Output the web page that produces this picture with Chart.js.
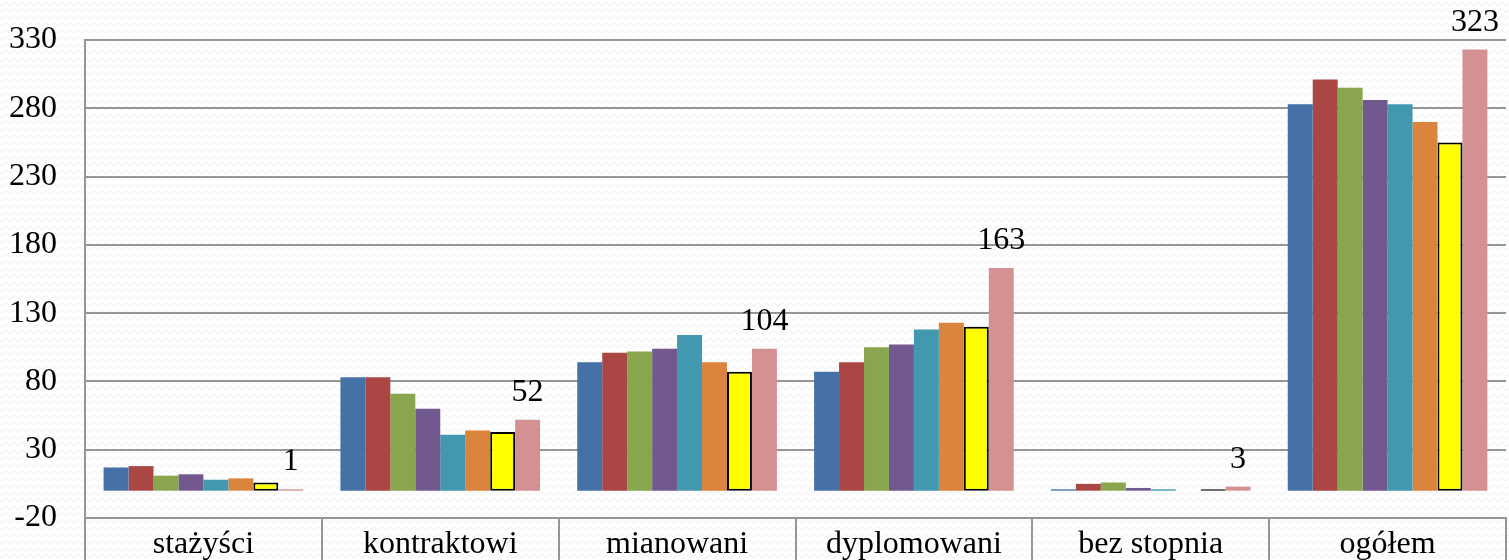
<!DOCTYPE html>
<html>
<head>
<meta charset="utf-8">
<script src="https://cdn.jsdelivr.net/npm/chart.js@4/dist/chart.umd.min.js"></script>
<style>
    html, body { margin: 0; padding: 0; background: #fff; }
    #wrap { width: 1509px; height: 560px; }
</style>
</head>
<body>
<div id="wrap"><canvas id="teachers"></canvas></div>
<script>
const categories = ['stażyści', 'kontraktowi', 'mianowani', 'dyplomowani', 'bez stopnia', 'ogółem'];

const series1 = [17, 83, 94, 87, 1, 283];
const series2 = [18, 83, 101, 94, 5, 301];
const series3 = [11, 71, 102, 105, 6, 295];
const series4 = [12, 60, 104, 107, 2, 286];
const series5 = [8, 41, 114, 118, 1, 283];
const series6 = [9, 44, 94, 123, 0, 270];
const series7 = [6, 43, 87, 120, 1, 255];
const series8 = [1, 52, 104, 163, 3, 323];

const yMin = -20;
const yMax = 330;
const yStep = 50;

const serif = "'Liberation Serif', 'Times New Roman', serif";
const gridGrey = '#969696';

// wavy background texture
const makePattern = () => {
    const c = document.createElement('canvas');
    c.width = 8;
    c.height = 7;
    const g = c.getContext('2d');
    g.fillStyle = '#ffffff';
    g.fillRect(0, 0, 8, 7);
    g.strokeStyle = '#ebebeb';
    g.lineWidth = 1;
    g.beginPath();
    for (let x = 0; x <= 8; x += 0.5) {
        const y = 3.5 + 1.5 * Math.sin(x / 8 * Math.PI * 2);
        if (x === 0) g.moveTo(x, y); else g.lineTo(x, y);
    }
    g.stroke();
    return c;
};

const backgroundPlugin = {
    id: 'texture',
    beforeDraw(chart) {
        const ctx = chart.ctx;
        ctx.save();
        ctx.fillStyle = ctx.createPattern(makePattern(), 'repeat');
        ctx.fillRect(0, 0, chart.width, chart.height);
        ctx.restore();
    }
};

// value labels above the last series
const lastLabels = {
    id: 'lastLabels',
    afterDatasetsDraw(chart) {
        const ctx = chart.ctx;
        const idx = chart.data.datasets.length - 1;
        const meta = chart.getDatasetMeta(idx);
        ctx.save();
        ctx.font = `32px ${serif}`;
        ctx.fillStyle = '#000';
        ctx.textAlign = 'center';
        ctx.textBaseline = 'alphabetic';
        meta.data.forEach((bar, i) => {
            ctx.fillText(String(chart.data.datasets[idx].data[i]), bar.x, bar.y - 19);
        });
        ctx.restore();
    }
};

const makeSet = (data, color, border, width) => ({
    data: data,
    backgroundColor: color,
    borderColor: border || color,
    borderWidth: width || 0,
    borderSkipped: false,
    categoryPercentage: 0.843,
    barPercentage: 1.0
});

new Chart(document.getElementById('teachers'), {
    type: 'bar',
    data: {
        labels: categories,
        datasets: [
            makeSet(series1, '#4571a7'),
            makeSet(series2, '#aa4643'),
            makeSet(series3, '#89a54e'),
            makeSet(series4, '#71588f'),
            makeSet(series5, '#4198af'),
            makeSet(series6, '#db843d'),
            makeSet(series7, '#ffff00', '#000000', 2),
            makeSet(series8, '#d39193')
        ]
    },
    options: {
        responsive: true,
        maintainAspectRatio: false,
        animation: false,
        layout: { padding: { top: 40, right: 3, bottom: 0, left: 0 } },
        plugins: {
            legend: { display: false },
            tooltip: { enabled: false }
        },
        scales: {
            x: {
                offset: true,
                grid: {
                    display: true,
                    offset: true,
                    drawOnChartArea: false,
                    drawTicks: true,
                    tickLength: 50,
                    color: gridGrey,
                    lineWidth: 2
                },
                border: { display: true, color: gridGrey, width: 2 },
                ticks: {
                    color: '#000',
                    padding: -43,
                    maxRotation: 0,
                    autoSkip: false,
                    font: { family: serif, size: 32 }
                },
                afterFit(scale) {
                    scale.height = 42;
                    scale.paddingLeft = 0;
                    scale.paddingRight = 0;
                }
            },
            y: {
                min: yMin,
                max: yMax,
                grid: {
                    color: gridGrey,
                    lineWidth: 2,
                    drawTicks: false
                },
                border: { display: true, color: gridGrey, width: 2 },
                ticks: {
                    stepSize: yStep,
                    color: '#000',
                    padding: 28,
                    font: { family: serif, size: 32 }
                },
                afterFit(scale) {
                    scale.width = 85;
                    scale.paddingTop = 0;
                    scale.paddingBottom = 0;
                }
            }
        }
    },
    plugins: [backgroundPlugin, lastLabels]
});
</script>
</body>
</html>
